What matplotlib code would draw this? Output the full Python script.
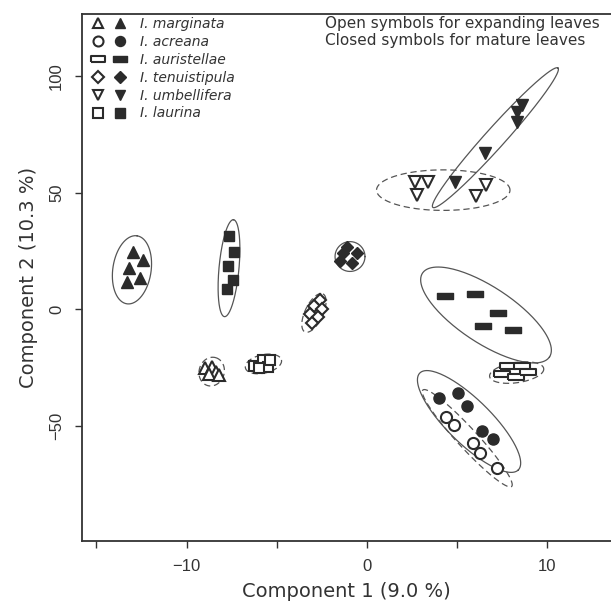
import numpy as np
import matplotlib
matplotlib.use("Agg")
import matplotlib.pyplot as plt
from matplotlib.legend_handler import HandlerTuple
from matplotlib.lines import Line2D

# PCA scores, open = expanding leaves, closed = mature leaves
species = ["I. marginata", "I. acreana", "I. auristellae",
           "I. tenuistipula", "I. umbellifera", "I. laurina"]

marginata_open_x = [-8.98, -8.59, -8.37, -8.76, -8.20]
marginata_open_y = [-25.1, -24.7, -26.8, -27.7, -28.1]
marginata_closed_x = [-12.99, -12.43, -13.17, -13.30, -12.58]
marginata_closed_y = [24.8, 21.2, 17.7, 11.9, 13.6]

acreana_open_x = [4.38, 4.82, 5.86, 6.26, 7.22]
acreana_open_y = [-46.3, -49.6, -57.2, -61.5, -68.2]
acreana_closed_x = [4.01, 5.06, 5.53, 6.36, 7.00]
acreana_closed_y = [-38.1, -35.7, -41.4, -52.4, -55.7]

auristellae_open_x = [7.83, 8.58, 7.47, 8.24, 8.94]
auristellae_open_y = [-24.5, -24.5, -27.7, -28.8, -27.0]
auristellae_closed_x = [4.32, 5.99, 7.28, 6.45, 8.11]
auristellae_closed_y = [5.8, 6.5, -1.6, -7.1, -8.8]

tenuistipula_open_x = [-2.61, -2.94, -2.49, -3.16, -2.72, -3.05]
tenuistipula_open_y = [4.1, 1.5, 0.2, -1.9, -3.2, -5.8]
tenuistipula_closed_x = [-1.09, -1.31, -0.57, -1.50, -0.85]
tenuistipula_closed_y = [27.0, 24.4, 24.1, 20.8, 19.8]

umbellifera_open_x = [2.66, 3.40, 2.79, 6.60, 6.04]
umbellifera_open_y = [54.8, 54.8, 49.1, 53.4, 48.7]
umbellifera_closed_x = [8.58, 8.30, 8.33, 6.54, 4.88]
umbellifera_closed_y = [87.8, 84.9, 80.6, 67.2, 54.7]

laurina_open_x = [-6.26, -5.76, -5.49, -5.99, -5.38]
laurina_open_y = [-24.1, -21.7, -24.7, -25.1, -21.7]
laurina_closed_x = [-7.63, -7.37, -7.69, -7.44, -7.78]
laurina_closed_y = [31.5, 24.8, 18.7, 12.7, 8.7]

# confidence ellipses: centre x, centre y, semi-axis 1 (dx, dy), semi-axis 2 (dx, dy)
ell_marginata_open = [-8.61, -26.7, 0.22, 6.0, 0.67, -1.46]
ell_marginata_closed = [-13.03, 17.0, 0.28, 14.6, 1.05, -1.2]
ell_acreana_open = [5.56, -55.3, 2.46, -20.7, 0.41, 2.9]
ell_acreana_closed = [5.66, -48.1, 2.73, -20.8, 0.86, 6.7]
ell_auristellae_open = [8.30, -27.1, 1.50, 1.72, 0.08, -4.3]
ell_auristellae_closed = [6.60, -2.4, 3.52, -18.0, 0.86, 10.0]
ell_tenuistipula_open = [-2.94, -1.5, 0.50, 8.15, 0.45, -1.67]
ell_tenuistipula_closed = [-0.94, 22.7, 0.83, 0.0, 0.0, 6.4]
ell_umbellifera_open = [4.23, 51.2, 3.70, 0.0, 0.0, 8.7]
ell_umbellifera_closed = [7.12, 73.7, 3.47, 29.9, 0.41, -2.87]
ell_laurina_open = [-5.74, -23.4, 1.0, 1.72, 0.11, -3.86]
ell_laurina_closed = [-7.65, 17.7, 0.25, 20.8, 0.55, -0.43]

x_ticks = [-15, -10, -5, 0, 5, 10]
x_ticklabels = ["", "\u221210", "", "0", "", "10"]
y_ticks = [-50, 0, 50, 100]
y_ticklabels = ["\u221250", "0", "50", "100"]

dark = "#2b2b2b"
linec = "#555555"
rect = [(-1, -0.42), (1, -0.42), (1, 0.42), (-1, 0.42), (-1, -0.42)]

groups = [
    (marginata_open_x, marginata_open_y, marginata_closed_x, marginata_closed_y, "^", 8.5,
     ell_marginata_open, ell_marginata_closed),
    (acreana_open_x, acreana_open_y, acreana_closed_x, acreana_closed_y, "o", 8,
     ell_acreana_open, ell_acreana_closed),
    (auristellae_open_x, auristellae_open_y, auristellae_closed_x, auristellae_closed_y, rect, 11,
     ell_auristellae_open, ell_auristellae_closed),
    (tenuistipula_open_x, tenuistipula_open_y, tenuistipula_closed_x, tenuistipula_closed_y, "D", 6.5,
     ell_tenuistipula_open, ell_tenuistipula_closed),
    (umbellifera_open_x, umbellifera_open_y, umbellifera_closed_x, umbellifera_closed_y, "v", 8.5,
     ell_umbellifera_open, ell_umbellifera_closed),
    (laurina_open_x, laurina_open_y, laurina_closed_x, laurina_closed_y, "s", 7.5,
     ell_laurina_open, ell_laurina_closed),
]

fig = plt.figure(figsize=(6.11, 6.07), dpi=100)
ax = fig.add_axes([82 / 611, 66 / 607, 529 / 611, 527 / 607])

t = np.linspace(0, 2 * np.pi, 200)


def draw_ellipse(e, dashed):
    cx, cy, ax1, ay1, bx1, by1 = e
    xs = cx + ax1 * np.cos(t) + bx1 * np.sin(t)
    ys = cy + ay1 * np.cos(t) + by1 * np.sin(t)
    ls = (0, (5, 3)) if dashed else "-"
    ax.plot(xs, ys, color=linec, lw=0.9, ls=ls, zorder=1)


handles = []
for ox, oy, cx, cy, mk, ms, e_open, e_closed in groups:
    draw_ellipse(e_open, True)
    draw_ellipse(e_closed, False)
    ax.plot(ox, oy, ls="none", marker=mk, ms=ms, mfc="white", mec=dark, mew=1.5, zorder=3)
    ax.plot(cx, cy, ls="none", marker=mk, ms=ms, mfc=dark, mec=dark, mew=1.0, zorder=3)
    h_open = Line2D([], [], ls="none", marker=mk, ms=ms * 0.9, mfc="white", mec=dark, mew=1.5)
    h_closed = Line2D([], [], ls="none", marker=mk, ms=ms * 0.9, mfc=dark, mec=dark)
    handles.append((h_open, h_closed))

ax.set_xlim(-15.8, 13.53)
ax.set_ylim(-99.4, 126.8)

ax.set_xticks(x_ticks)
ax.set_xticklabels(x_ticklabels, family="Liberation Sans", fontsize=12, color="#333333")
ax.set_yticks(y_ticks)
ax.set_yticklabels(y_ticklabels, family="Liberation Sans", fontsize=12, color="#333333",
                   rotation=90, va="center")
ax.tick_params(direction="out", length=5, width=1, color="#333333", pad=8)

for s in ["left", "top", "bottom"]:
    ax.spines[s].set_linewidth(1.3)
    ax.spines[s].set_color("#333333")
ax.spines["right"].set_visible(False)

ax.set_xlabel("Component 1 (9.0 %)", fontsize=14, color="#333333", labelpad=6)
ax.set_ylabel("Component 2 (10.3 %)", fontsize=14, color="#333333", labelpad=8)

leg = ax.legend(handles, species, handler_map={tuple: HandlerTuple(ndivide=None, pad=0)},
                loc="upper left", bbox_to_anchor=(5 / 529, 1 - 3 / 527), frameon=False,
                prop={"style": "italic", "size": 10}, handlelength=3.2, handletextpad=0.6,
                labelspacing=0.28, borderpad=0, borderaxespad=0)
for txt in leg.get_texts():
    txt.set_color("#333333")

ax.text((325 - 82) / 529, 1 - 2 / 527,
        "Open symbols for expanding leaves\nClosed symbols for mature leaves",
        transform=ax.transAxes, ha="left", va="top", fontsize=11, color="#333333",
        linespacing=1.2)

fig.savefig("out.png", dpi=100)
